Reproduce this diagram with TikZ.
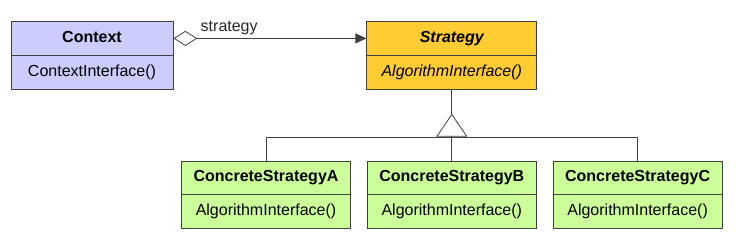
\documentclass[tikz,border=0pt]{standalone}
\usepackage{fontspec}
\setmainfont{Liberation Sans}
\usetikzlibrary{shapes,arrows.meta,positioning,calc}
\definecolor{clsline}{RGB}{64,64,64}
\definecolor{ctxfill}{RGB}{204,204,255}
\definecolor{stratfill}{RGB}{255,204,51}
\definecolor{concfill}{RGB}{204,255,153}
\definecolor{lblgray}{RGB}{40,40,40}
\tikzset{
  cls/.style={rectangle split, rectangle split parts=2,
    draw=clsline, line width=0.8pt, text width=160pt,
    inner xsep=5pt, inner ysep=7pt, align=center,
    font=\fontsize{16}{19}\selectfont},
  ctxcls/.style={cls, fill=ctxfill, text width=152pt},
  stratcls/.style={cls, fill=stratfill, font=\fontsize{16}{19}\selectfont\itshape},
  conccls/.style={cls, fill=concfill, text width=159pt},
  assoc/.style={{Diamond[open,length=24pt,width=15pt]}-{Triangle[length=11pt,width=10pt]},
    line width=0.8pt, color=clsline},
  inh/.style={-{Triangle[open,length=23pt,width=31pt]}, line width=0.8pt, color=clsline},
  link/.style={line width=0.8pt, color=clsline},
  lbl/.style={font=\fontsize{16}{19}\selectfont, color=lblgray}
}

\begin{document}
\begin{tikzpicture}[x=1pt, y=-1pt, node distance=71pt and 16pt]
\useasboundingbox (0,0) rectangle (742,245);

%% ── TOP ROW: Context and Strategy ─────────────────────────────────
\node[ctxcls] (ctx) at (92,55.5)
  {\strut\textbf{Context}\nodepart{two}\strut ContextInterface()};
\node[stratcls, right=193pt of ctx] (strat)
  {\strut\textbf{Strategy}\nodepart{two}\strut AlgorithmInterface()};

%% ── BOTTOM ROW: concrete strategies ───────────────────────────────
\node[conccls, below=of strat] (concb)
  {\strut\textbf{ConcreteStrategyB}\nodepart{two}\strut AlgorithmInterface()};
\node[conccls, left=of concb]  (conca)
  {\strut\textbf{ConcreteStrategyA}\nodepart{two}\strut AlgorithmInterface()};
\node[conccls, right=of concb] (concc)
  {\strut\textbf{ConcreteStrategyC}\nodepart{two}\strut AlgorithmInterface()};

%% ── ARROWS ────────────────────────────────────────────────────────
\draw[assoc] ($(ctx.north east)!0.5!(ctx.text split east)$) --
  node[lbl, pos=0.124, anchor=south west, inner sep=3pt]{strategy}
  ($(strat.north west)!0.5!(strat.text split west)$);

%% Inheritance
\coordinate[below=24pt of strat.south] (apex);
\coordinate[below=24pt of apex] (hub);
\draw[link] (strat.south) -- (apex);
\draw[inh] (hub) -- (apex);
\draw[link] (conca.north) |- (hub) -| (concc.north);
\draw[link] (concb.north) -- (hub);

\end{tikzpicture}
\end{document}
